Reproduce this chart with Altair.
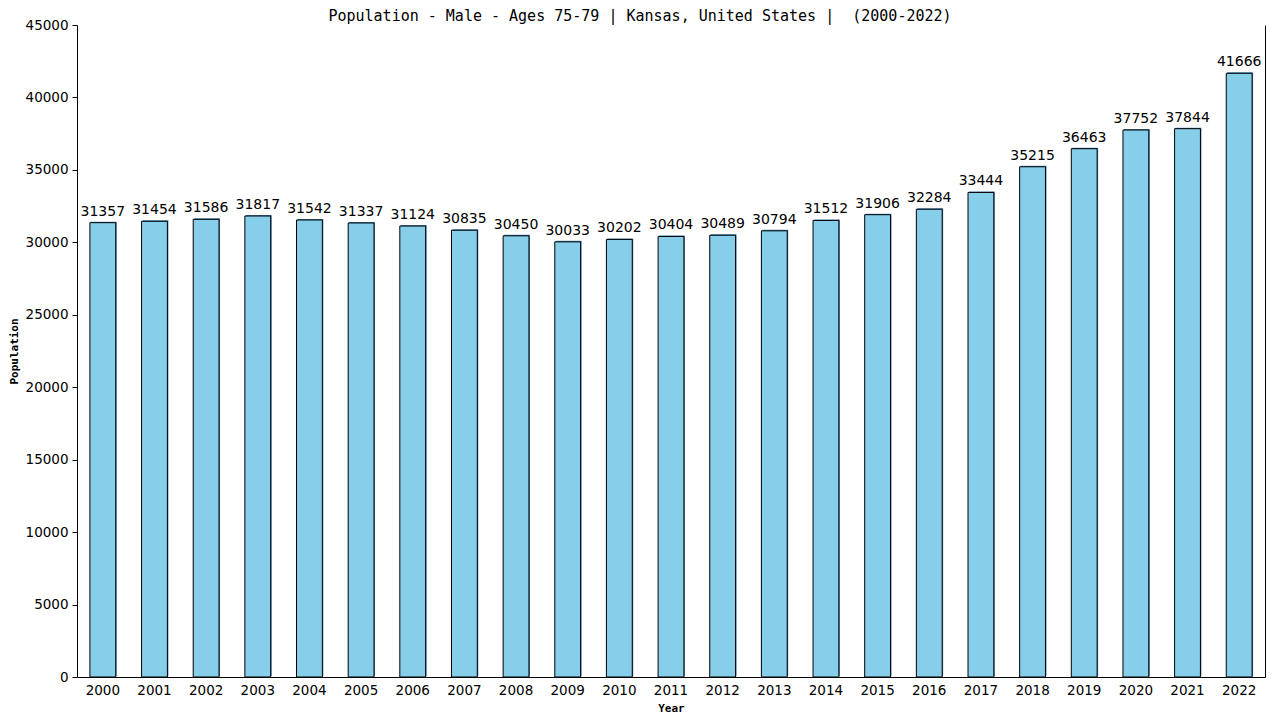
import altair as alt
import pandas as pd

years = [str(y) for y in range(2000, 2023)]
population = [31357, 31454, 31586, 31817, 31542, 31337, 31124, 30835, 30450, 30033,
              30202, 30404, 30489, 30794, 31512, 31906, 32284, 33444, 35215, 36463,
              37752, 37844, 41666]
y_ticks = list(range(0, 45001, 5000))

df = pd.DataFrame({"Year": years, "Population": population})

W, H = 1188, 652
x_enc = alt.X("Year:N", sort=years,
              scale=alt.Scale(paddingInner=0.5, paddingOuter=0.25),
              axis=alt.Axis(title="Year", labelAngle=0, ticks=False, domainColor="black",
                            labelFont="DejaVu Sans", labelFontSize=13.5, labelColor="black",
                            labelPadding=6, titleFont="DejaVu Sans Mono", titleFontSize=11,
                            titleFontWeight="bold", titlePadding=6, titleColor="black"))
y_scale = alt.Scale(domain=[0, 45000], nice=False)

shadow = alt.Chart(df).mark_bar(color="#4682B4", xOffset=1, yOffset=-1).encode(
    x=x_enc,
    y=alt.Y("Population:Q", scale=y_scale,
            axis=alt.Axis(title="Population", values=y_ticks, format="d", grid=False,
                          tickSize=5, tickColor="black", domainColor="black",
                          labelColor="black", labelFont="DejaVu Sans", labelFontSize=13.5,
                          labelPadding=4, titleFont="DejaVu Sans Mono", titleFontSize=11,
                          titleFontWeight="bold", titleColor="black", titlePadding=6)),
)

bars = alt.Chart(df).mark_bar(color="#87CEEB", stroke="black", strokeWidth=1).encode(
    x=x_enc,
    y=alt.Y("Population:Q", scale=y_scale,
            axis=alt.Axis(orient="right", labels=False, ticks=False, title=None,
                          grid=False, domainColor="black")),
)

labels = alt.Chart(df).mark_text(baseline="bottom", dy=-4, font="DejaVu Sans",
                                 fontSize=14, color="black").encode(
    x=alt.X("Year:N", sort=years),
    y=alt.Y("Population:Q", scale=y_scale, axis=None),
    text=alt.Text("Population:Q", format="d"),
)

chart = alt.layer(shadow, bars, labels).resolve_axis(y="independent").properties(
    width=W, height=H,
    title=alt.TitleParams("Population - Male - Ages 75-79 | Kansas, United States |\u00a0 (2000-2022)",
                          font="DejaVu Sans Mono", fontSize=15, fontWeight="normal",
                          color="black", offset=-6, anchor="middle", dx=-31),
    autosize=alt.AutoSizeParams(type="none"),
    padding={"left": 69, "top": 17, "right": 7, "bottom": 40},
).configure_view(stroke=None)

chart.save("out.html", embed_options={"renderer": "svg", "actions": False})
